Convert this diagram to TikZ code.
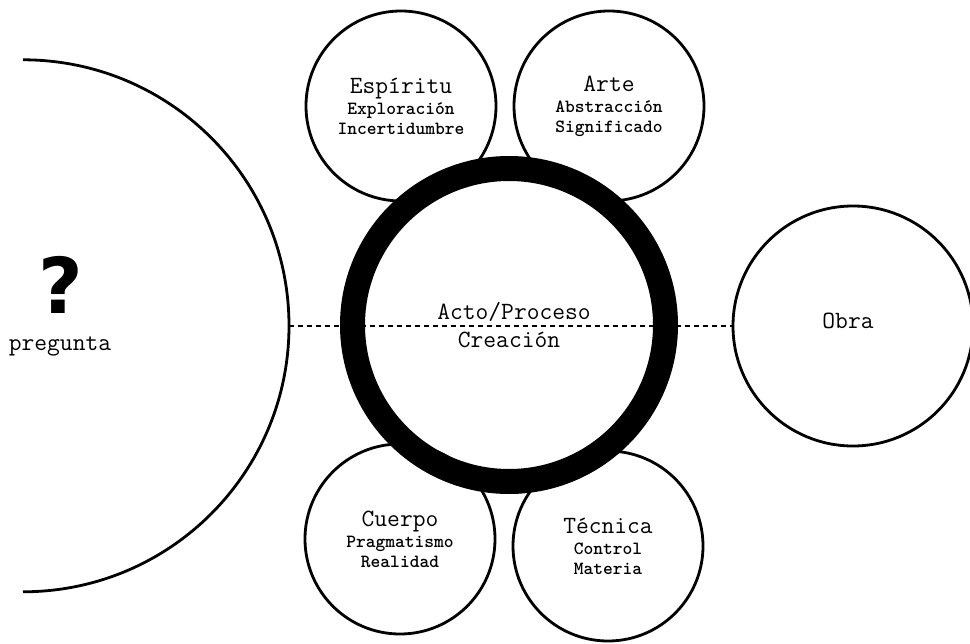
\documentclass[tikz,border=0pt]{standalone}
\usepackage{fontspec}
\newfontfamily\signo{DejaVu Sans}
\usepackage{tikz}

\tikzset{
  rueda/.style={circle, draw, line width=2.8bp, minimum size=190bp, inner sep=0pt,
    align=center, font=\ttfamily\bfseries\fontsize{18.6bp}{20bp}\selectfont},
  rotulo/.style={font=\ttfamily\fontsize{24.8bp}{24bp}\selectfont, inner sep=0pt}
}
\newcommand{\titulo}[1]{{\mdseries\fontsize{24.8bp}{20bp}\selectfont #1}}

\begin{document}
\begin{tikzpicture}[x=1bp, y=-1bp]
\useasboundingbox (0,0) rectangle (970,644);
\clip (0,0) rectangle (970,644);
\node (big) [circle, minimum size=532bp, inner sep=0pt] at (23,326) {};
\draw[line width=2.8bp] (big.north) arc[start angle=-90, end angle=90, radius=266];
\node (signo) [inner sep=0pt] at (61,285) {\signo\bfseries\fontsize{77bp}{77bp}\selectfont ?};
\node (pregunta) [rotulo] at (60,346) {pregunta};
\node (espiritu) [rueda] at (401,106) {\titulo{Espíritu}\\[1bp]Exploración\\Incertidumbre};
\node (arte) [rueda] at (609,106) {\titulo{Arte}\\[1bp]Abstracción\\Significado};
\node (cuerpo) [rueda] at (400,539) {\titulo{Cuerpo}\\[1bp]Pragmatismo\\Realidad};
\node (tecnica) [rueda] at (608,546) {\titulo{Técnica}\\[1bp]Control\\Materia};
\node (obra) [rueda, minimum size=240bp] at (853,326) {};
\node (obratxt) [rotulo] at (848,321) {Obra};
\draw[line width=1.2bp, dash pattern=on 5bp off 4bp] (big.east) -- (obra.west);
% anillo central
\node (proceso) [circle, draw, line width=25bp, minimum size=313bp, inner sep=0pt] at (509,325) {};
\node (acto) [rotulo] at (514,312) {Acto/Proceso};
\node (creacion) [rotulo] at (509,340) {Creación};
\end{tikzpicture}
\end{document}
